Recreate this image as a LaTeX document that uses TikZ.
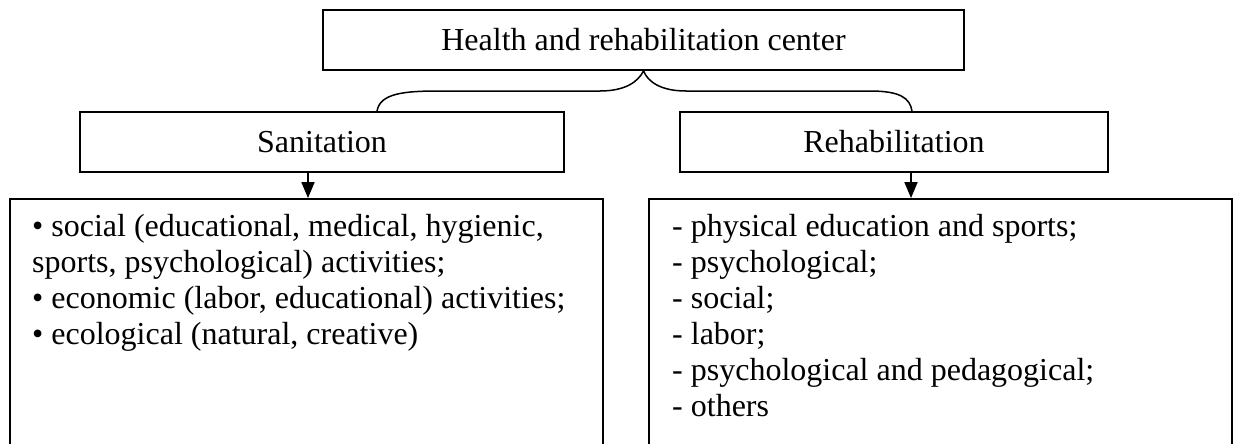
\documentclass[tikz,border=0pt]{standalone}
\usepackage{fontspec}
\setmainfont{Liberation Serif}
\usetikzlibrary{arrows.meta}
\begin{document}
\begin{tikzpicture}[x=1pt,y=-1pt,
  frame/.style={draw, line width=1.8pt, inner sep=0pt, font=\fontsize{32}{36}\selectfont},
  listtxt/.style={inner sep=0pt, anchor=base west, font=\fontsize{32}{36}\selectfont},
  arr/.style={line width=1.8pt, -{Triangle[length=16pt,width=13pt]}},
  brace/.style={line width=1.5pt}]
\useasboundingbox (0,0) rectangle (1236,444);
% boxes
\node[frame, minimum width=641pt, minimum height=60pt] (top) at (643.5,40) {Health and rehabilitation center};
\node[frame, minimum width=484pt, minimum height=60pt] (san) at (322,142) {Sanitation};
\node[frame, minimum width=428pt, minimum height=60pt] (reh) at (894,142) {Rehabilitation};
\node[frame, minimum width=593pt, minimum height=251pt] (sanlist) at (306.5,324.5) {};
\node[frame, minimum width=583pt, minimum height=251pt] (rehlist) at (940.5,324.5) {};
% brace
\coordinate (bL) at ([xshift=55pt]san.north);
\coordinate (bR) at ([xshift=18pt]reh.north);
\draw[brace] (bL) .. controls (380,93) and (405,91) .. (440,91) -- (600,91)
  .. controls (625,91) and (638,82) .. (top.south)
  .. controls (648,82) and (661,91) .. (686,91) -- (870,91)
  .. controls (900,91) and (910,98) .. (bR);
% arrows
\draw[arr] ([xshift=-14pt]san.south) -- ([xshift=-14pt]san.south |- sanlist.north);
\draw[arr] ([xshift=17pt]reh.south) -- ([xshift=17pt]reh.south |- rehlist.north);
% list texts
\node[listtxt] (santxt) at (32,236) {\vtop{\baselineskip=36pt
  \hbox{• social (educational, medical, hygienic,}
  \hbox{sports, psychological) activities;}
  \hbox{• economic (labor, educational) activities;}
  \hbox{• ecological (natural, creative)}}};
\node[listtxt] (rehtxt) at (672,236) {\vtop{\baselineskip=36pt
  \hbox{- physical education and sports;}
  \hbox{- psychological;}
  \hbox{- social;}
  \hbox{- labor;}
  \hbox{- psychological and pedagogical;}
  \hbox{- others}}};
\end{tikzpicture}
\end{document}
